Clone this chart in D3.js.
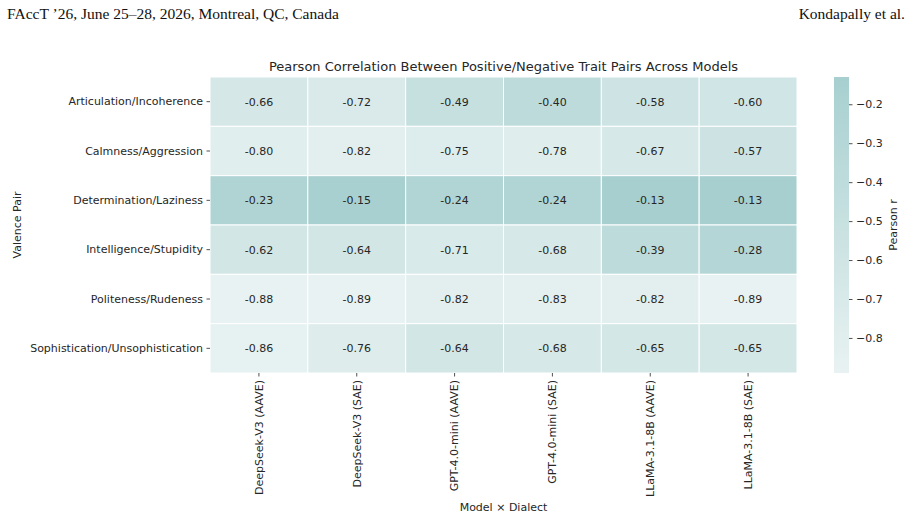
<!DOCTYPE html>
<html>
<head>
<meta charset="utf-8">
<script src="https://cdn.jsdelivr.net/npm/d3@7"></script>
<style>
  body { margin: 0; background: #fff; }
  svg text { font-family: "DejaVu Sans", sans-serif; fill: #262626; }
  .header { font-family: "Liberation Serif", serif; font-size: 15.5px; fill: #111; }
</style>
</head>
<body>
<svg id="chart" width="912" height="518"></svg>
<script>
var PAIRS = ['Articulation/Incoherence', 'Calmness/Aggression', 'Determination/Laziness',
  'Intelligence/Stupidity', 'Politeness/Rudeness', 'Sophistication/Unsophistication'];
var MODELS = ['DeepSeek-V3 (AAVE)', 'DeepSeek-V3 (SAE)', 'GPT-4.0-mini (AAVE)',
  'GPT-4.0-mini (SAE)', 'LLaMA-3.1-8B (AAVE)', 'LLaMA-3.1-8B (SAE)'];
var VALUES = [
  [-0.66, -0.72, -0.49, -0.40, -0.58, -0.60],
  [-0.80, -0.82, -0.75, -0.78, -0.67, -0.57],
  [-0.23, -0.15, -0.24, -0.24, -0.13, -0.13],
  [-0.62, -0.64, -0.71, -0.68, -0.39, -0.28],
  [-0.88, -0.89, -0.82, -0.83, -0.82, -0.89],
  [-0.86, -0.76, -0.64, -0.68, -0.65, -0.65]
];
var CBAR_TICKS = [-0.2, -0.3, -0.4, -0.5, -0.6, -0.7, -0.8];

var svg = d3.select('#chart');

// page header
svg.append('text').attr('class', 'header')
  .attr('x', 7).attr('y', 19)
  .text('FAccT \u201926, June 25\u201328, 2026, Montreal, QC, Canada');
svg.append('text').attr('class', 'header')
  .attr('x', 905).attr('y', 19).attr('text-anchor', 'end')
  .text('Kondapally et al.');

// heatmap box (window.top is reserved, so use other names)
var mLeft = 210, mTop = 77, mRight = 797, mBottom = 373;

var x = d3.scaleBand().domain(MODELS).range([mLeft, mRight]);
var y = d3.scaleBand().domain(PAIRS).range([mTop, mBottom]);

var flat = [];
VALUES.forEach(function (row, i) {
  row.forEach(function (v, j) {
    flat.push({ pair: PAIRS[i], model: MODELS[j], value: v });
  });
});

var vmin = d3.min(flat, function (d) { return d.value; });
var vmax = d3.max(flat, function (d) { return d.value; });
var color = d3.scaleLinear().domain([vmin, vmax])
  .range(['#e9f2f2', '#a7cfcf']).interpolate(d3.interpolateRgb);

var cells = svg.append('g');
cells.selectAll('rect')
  .data(flat)
  .enter()
    .append('rect')
    .attr('x', function (d) { return x(d.model); })
    .attr('y', function (d) { return y(d.pair); })
    .attr('width', x.bandwidth())
    .attr('height', y.bandwidth())
    .attr('fill', function (d) { return color(d.value); })
    .attr('stroke', '#fff')
    .attr('stroke-width', 1);

cells.selectAll('text')
  .data(flat)
  .enter()
    .append('text')
    .attr('x', function (d) { return x(d.model) + x.bandwidth() / 2; })
    .attr('y', function (d) { return y(d.pair) + y.bandwidth() / 2; })
    .attr('dy', '0.35em')
    .attr('text-anchor', 'middle')
    .style('font-size', '11px')
    .text(function (d) { return d.value.toFixed(2); });

// axes
var yAxis = svg.append('g')
  .attr('transform', 'translate(' + mLeft + ',0)')
  .call(d3.axisLeft(y).tickSize(3.5).tickPadding(3.5));
var xAxis = svg.append('g')
  .attr('transform', 'translate(0,' + mBottom + ')')
  .call(d3.axisBottom(x).tickSize(3.5).tickPadding(3.5));

[yAxis, xAxis].forEach(function (a) {
  a.select('.domain').remove();
  a.selectAll('line').attr('stroke', '#262626').attr('stroke-width', 0.8);
  a.selectAll('text').style('font-size', '11px').attr('fill', '#262626')
    .style('font-family', '"DejaVu Sans", sans-serif');
});
xAxis.selectAll('text')
  .attr('transform', 'rotate(-90)')
  .attr('text-anchor', 'end')
  .attr('x', -7)
  .attr('y', 0)
  .attr('dy', '0.35em');

svg.append('text')
  .attr('x', (mLeft + mRight) / 2).attr('y', 71)
  .attr('text-anchor', 'middle')
  .style('font-size', '13px')
  .text('Pearson Correlation Between Positive/Negative Trait Pairs Across Models');

svg.append('text')
  .attr('transform', 'translate(21,' + (mTop + mBottom) / 2 + ') rotate(-90)')
  .attr('text-anchor', 'middle')
  .style('font-size', '11px')
  .text('Valence Pair');

svg.append('text')
  .attr('x', (mLeft + mRight) / 2).attr('y', 511)
  .attr('text-anchor', 'middle')
  .style('font-size', '11px')
  .text('Model \u00d7 Dialect');

// colorbar
var cbX = 834, cbW = 15;
var cbScale = d3.scaleLinear().domain([vmin, vmax]).range([mBottom, mTop]);
var defs = svg.append('defs');
var grad = defs.append('linearGradient').attr('id', 'cbgrad')
  .attr('x1', 0).attr('y1', 1).attr('x2', 0).attr('y2', 0);
d3.range(0, 1.01, 0.1).forEach(function (t) {
  grad.append('stop').attr('offset', t)
    .attr('stop-color', color(vmin + t * (vmax - vmin)));
});
svg.append('rect')
  .attr('x', cbX).attr('y', mTop)
  .attr('width', cbW).attr('height', mBottom - mTop)
  .attr('fill', 'url(#cbgrad)');

var cbAxis = svg.append('g')
  .attr('transform', 'translate(' + (cbX + cbW) + ',0)')
  .call(d3.axisRight(cbScale).tickValues(CBAR_TICKS).tickSize(3.5).tickPadding(3.5)
    .tickFormat(function (d) { return '\u2212' + Math.abs(d).toFixed(1); }));
cbAxis.select('.domain').remove();
cbAxis.selectAll('line').attr('stroke', '#262626').attr('stroke-width', 0.8);
cbAxis.selectAll('text').style('font-size', '11px').attr('fill', '#262626')
  .style('font-family', '"DejaVu Sans", sans-serif');

svg.append('text')
  .attr('transform', 'translate(897,' + (mTop + mBottom) / 2 + ') rotate(-90)')
  .attr('text-anchor', 'middle')
  .style('font-size', '11px')
  .text('Pearson r');
</script>
</body>
</html>
